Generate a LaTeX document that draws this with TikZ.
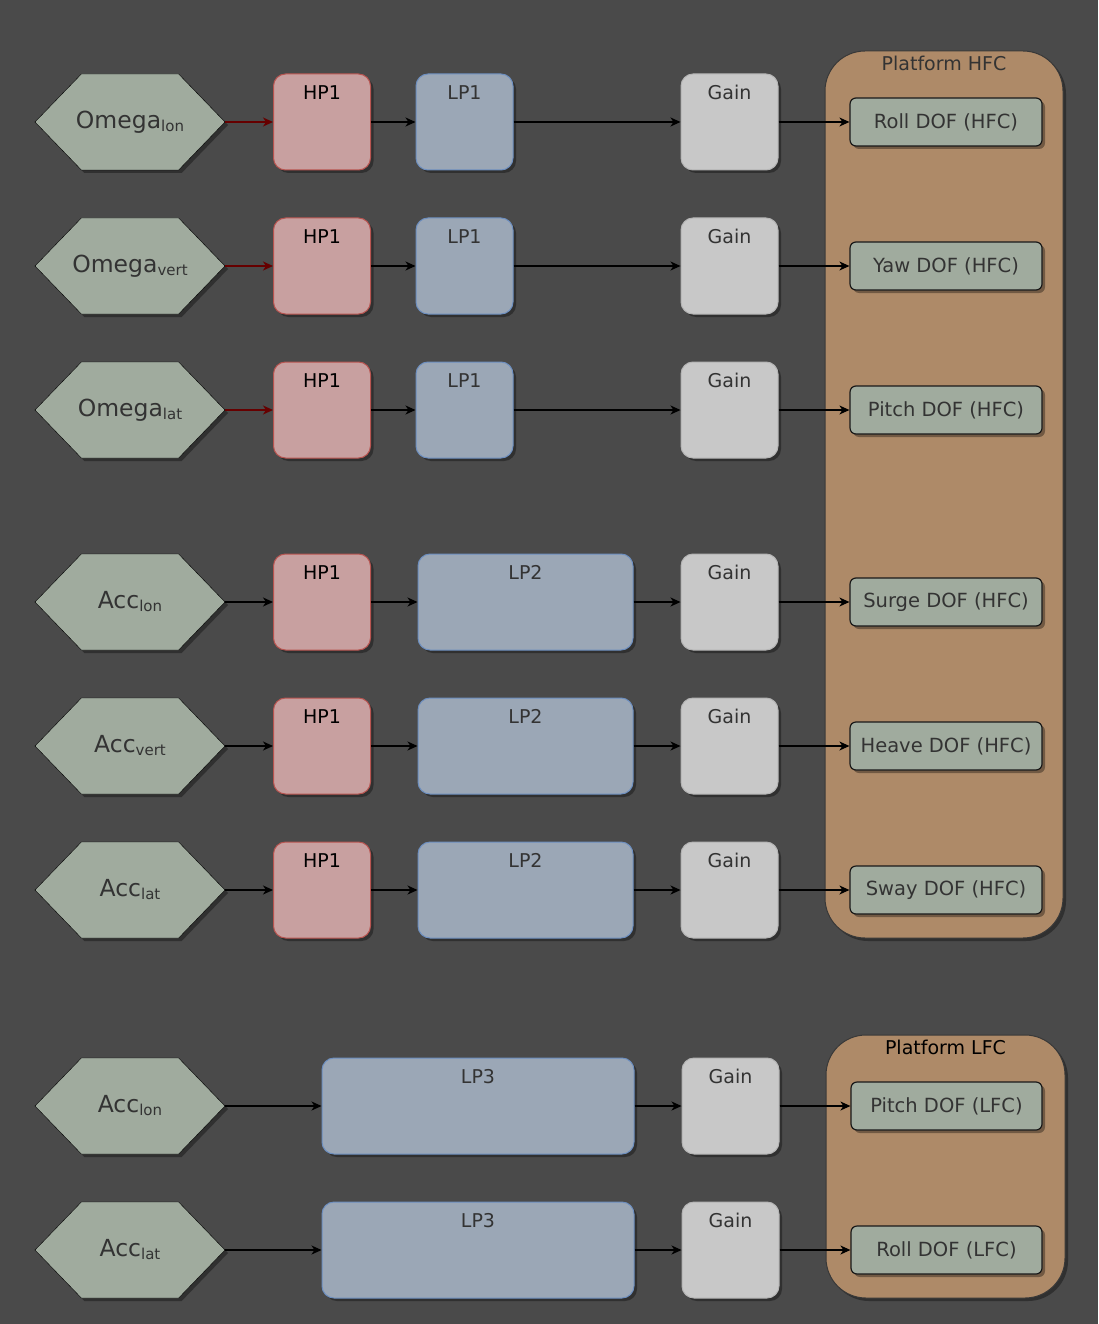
\documentclass[tikz,border=0pt]{standalone}
\usepackage{fontspec}
\setmainfont{DejaVu Sans}
\usetikzlibrary{shapes.symbols, shadows, arrows.meta}

\definecolor{bgGray}{HTML}{4A4A4A}
\definecolor{hexGreen}{HTML}{A0AB9E}
\definecolor{hpPink}{HTML}{C8A0A0}
\definecolor{hpRed}{HTML}{B85450}
\definecolor{lpFill}{HTML}{9BA7B6}
\definecolor{lpBlue}{HTML}{6C8EBF}
\definecolor{gnFill}{HTML}{C8C8C8}
\definecolor{gnLine}{HTML}{B4B4B4}
\definecolor{pfBrown}{HTML}{AE8A68}
\definecolor{pfLine}{HTML}{383838}
\definecolor{txtGray}{HTML}{333333}
\definecolor{arRed}{HTML}{660000}

\newcommand\lowsub[1]{\raisebox{-3pt}{\fontsize{15}{15}\selectfont #1}}

\begin{document}
\begin{tikzpicture}[x=1pt, y=-1pt,
    SH/.style = {drop shadow={shadow xshift=3pt, shadow yshift=-3pt, opacity=0.35, fill=black}},
    HX/.style = {signal, signal to=west and east, signal pointer angle=92, draw=black,
                 fill=hexGreen, minimum width=190pt, minimum height=96pt, inner sep=0pt, SH},
    HT/.style = {anchor=center, text=txtGray, font=\fontsize{23.5}{25}\selectfont},
    BX/.style = {rectangle, rounded corners=12pt, minimum height=96pt, inner sep=0pt,
                 line width=1pt, SH},
    HP/.style = {BX, draw=hpRed, fill=hpPink, minimum width=97pt},
    LP/.style = {BX, draw=lpBlue, fill=lpFill},
    GN/.style = {BX, draw=gnLine, fill=gnFill, minimum width=97pt},
    DF/.style = {rectangle, rounded corners=6pt, draw=black!90, fill=hexGreen, line width=1.2pt,
                 minimum width=192pt, minimum height=48pt, text=txtGray,
                 font=\fontsize{19.5}{21}\selectfont, SH},
    PF/.style = {rectangle, rounded corners=40pt, draw=pfLine, fill=pfBrown, line width=1pt, SH},
    TL/.style = {anchor=center, yshift=-19pt, font=\fontsize{19}{21}\selectfont, text=txtGray},
    PT/.style = {anchor=center, yshift=-13pt, font=\fontsize{19}{21}\selectfont},
    AR/.style = {-{Stealth[length=10pt, width=9pt, inset=3pt]}, line width=1.2pt}
  ]

  \useasboundingbox (0,0) rectangle (1098,1324);
  \fill[bgGray] (0,0) rectangle (1098,1324);

  % platform containers
  \node[PF, minimum width=238pt, minimum height=887pt,
        label={[PT, text=txtGray]north:Platform HFC}] (pfh) at (944,494.5) {};
  \node[PF, minimum width=239pt, minimum height=263pt,
        label={[PT, text=black]north:Platform LFC}] (pfl) at (945.5,1166.5) {};

  % high frequency rows
  \foreach \i/\y/\inp/\sb/\out/\lx/\lw/\ln/\ac in
     {1/122/Omega/lon/Roll/464.5/97/1/arRed,
      2/266/Omega/vert/Yaw/464.5/97/1/arRed,
      3/410/Omega/lat/Pitch/464.5/97/1/arRed,
      4/602/Acc/lon/Surge/525.5/215/2/black,
      5/746/Acc/vert/Heave/525.5/215/2/black,
      6/890/Acc/lat/Sway/525.5/215/2/black}
  {
    \node[HX, label={[HT]center:\inp\lowsub{\sb}}] (in\i) at (130,\y) {};
    \node[HP, label={[TL, text=black]north:HP1}] (hp\i) at (322,\y) {};
    \node[LP, minimum width=\lw pt, label={[TL]north:LP\ln}] (lp\i) at (\lx,\y) {};
    \node[GN, label={[TL]north:Gain}] (gn\i) at (729.5,\y) {};
    \node[DF] (df\i) at (946,\y) {\out{} DOF (HFC)};

    \draw[AR, color=\ac] (in\i) -- (hp\i);
    \draw[AR] (hp\i) -- (lp\i);
    \draw[AR] (lp\i) -- (gn\i);
    \draw[AR] (gn\i) -- (df\i);
  }

  % low frequency rows
  \foreach \i/\y/\sb/\out in {7/1106/lon/Pitch, 8/1250/lat/Roll}
  {
    \node[HX, label={[HT]center:Acc\lowsub{\sb}}] (in\i) at (130,\y) {};
    \node[LP, minimum width=312pt, label={[TL]north:LP3}] (lp\i) at (478,\y) {};
    \node[GN, label={[TL]north:Gain}] (gn\i) at (730.5,\y) {};
    \node[DF, minimum width=191pt] (df\i) at (946.5,\y) {\out{} DOF (LFC)};

    \draw[AR] (in\i) -- (lp\i);
    \draw[AR] (lp\i) -- (gn\i);
    \draw[AR] (gn\i) -- (df\i);
  }
\end{tikzpicture}
\end{document}
